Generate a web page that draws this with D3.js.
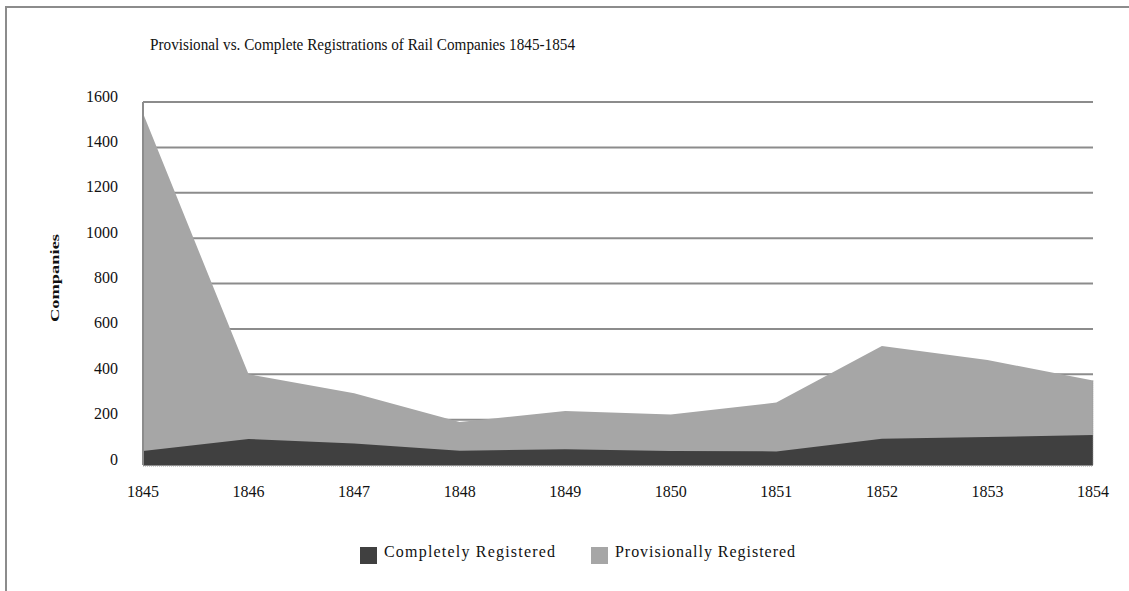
<!DOCTYPE html>
<html lang="en">
	<head>
		<meta charset="utf-8">
		<title>Provisional vs. Complete Registrations</title>
		<script type="text/javascript" src="https://cdn.jsdelivr.net/npm/d3@7"></script>
		<style>
			body { margin: 0; background: #fff; }
			svg text { font-family: "Liberation Serif", "DejaVu Serif", serif; fill: #111; }
		</style>
	</head>
	<body>
		<script type="text/javascript">

			//Data
			var years = [1845, 1846, 1847, 1848, 1849, 1850, 1851, 1852, 1853, 1854];
			var provisionally = [1550, 400, 316, 190, 238, 223, 275, 524, 463, 372];
			var completely = [62, 115, 95, 63, 69, 62, 60, 116, 123, 132];
			var yTicks = [0, 200, 400, 600, 800, 1000, 1200, 1400, 1600];
			var seriesNames = ["Completely Registered", "Provisionally Registered"];
			var seriesColors = ["#404040", "#a6a6a6"];

			var w = 1129;
			var h = 591;
			var plotLeft = 143, plotRight = 1093, plotTop = 102, plotBottom = 465;

			var svg = d3.select("body")
						.append("svg")
						.attr("width", w)
						.attr("height", h);

			//outer frame
			svg.append("rect")
			   .attr("x", 6).attr("y", 7)
			   .attr("width", w + 10).attr("height", h + 10)
			   .attr("fill", "none")
			   .attr("stroke", "#8c8c8c")
			   .attr("stroke-width", 2);

			var x = d3.scaleLinear().domain([1845, 1854]).range([plotLeft, plotRight]);
			var y = d3.scaleLinear().domain([0, 1600]).range([plotBottom, plotTop]);

			//gridlines
			svg.append("g")
			   .selectAll("line")
			   .data(yTicks)
			   .enter()
			   .append("line")
			   .attr("x1", plotLeft).attr("x2", plotRight)
			   .attr("y1", d => y(d)).attr("y2", d => y(d))
			   .attr("stroke", "#8c8c8c")
			   .attr("stroke-width", 2);

			var area = function(vals) {
				return d3.area()
						 .x((d, i) => x(years[i]))
						 .y0(y(0))
						 .y1(d => y(d))(vals);
			};

			svg.append("path")
			   .attr("d", area(provisionally))
			   .attr("fill", seriesColors[1]);

			svg.append("path")
			   .attr("d", area(completely))
			   .attr("fill", seriesColors[0]);

			//axis line and dotted baseline
			svg.append("line")
			   .attr("x1", plotLeft).attr("x2", plotLeft)
			   .attr("y1", y(1600)).attr("y2", y(0))
			   .attr("stroke", "#8c8c8c").attr("stroke-width", 2);
			svg.append("line")
			   .attr("x1", plotLeft).attr("x2", plotRight)
			   .attr("y1", y(0) + 1).attr("y2", y(0) + 1)
			   .attr("stroke", "#999").attr("stroke-width", 1)
			   .attr("stroke-dasharray", "1,1");
			svg.append("line")
			   .attr("x1", plotRight).attr("x2", plotRight)
			   .attr("y1", y(provisionally[9])).attr("y2", y(0))
			   .attr("stroke", "#999").attr("stroke-width", 1)
			   .attr("stroke-dasharray", "1,1");

			//y tick labels
			svg.append("g")
			   .selectAll("text")
			   .data(yTicks)
			   .enter()
			   .append("text")
			   .attr("x", 118)
			   .attr("y", d => y(d) - 6)
			   .attr("dy", "0.35em")
			   .attr("text-anchor", "end")
			   .attr("font-size", 16)
			   .text(d => d);

			//x tick labels
			svg.append("g")
			   .selectAll("text")
			   .data(years)
			   .enter()
			   .append("text")
			   .attr("x", d => x(d))
			   .attr("y", 491)
			   .attr("dy", "0.35em")
			   .attr("text-anchor", "middle")
			   .attr("font-size", 16)
			   .text(d => d);

			//title
			svg.append("text")
			   .attr("x", 150)
			   .attr("y", 44)
			   .attr("dy", "0.35em")
			   .attr("font-size", 17.5)
			   .attr("textLength", 425)
			   .attr("lengthAdjust", "spacingAndGlyphs")
			   .text("Provisional vs. Complete Registrations of Rail Companies 1845-1854");

			//y axis title
			svg.append("text")
			   .attr("transform", "translate(59,278) rotate(-90)")
			   .attr("text-anchor", "middle")
			   .attr("font-size", 12)
			   .attr("font-weight", "bold")
			   .attr("textLength", 88)
			   .attr("lengthAdjust", "spacingAndGlyphs")
			   .text("Companies");

			//legend
			var legendX = [360, 591];
			var legendLen = [171, 180];
			var legend = svg.append("g")
							.selectAll("g")
							.data(seriesNames)
							.enter()
							.append("g")
							.attr("transform", (d, i) => "translate(" + legendX[i] + ",547)");
			legend.append("rect")
				  .attr("width", 17).attr("height", 17)
				  .attr("fill", (d, i) => seriesColors[i]);
			legend.append("text")
				  .attr("x", 24)
				  .attr("y", 4)
				  .attr("dy", "0.35em")
				  .attr("font-size", 16)
				  .attr("textLength", (d, i) => legendLen[i])
				  .attr("lengthAdjust", "spacing")
				  .text(d => d);

		</script>
	</body>
</html>
